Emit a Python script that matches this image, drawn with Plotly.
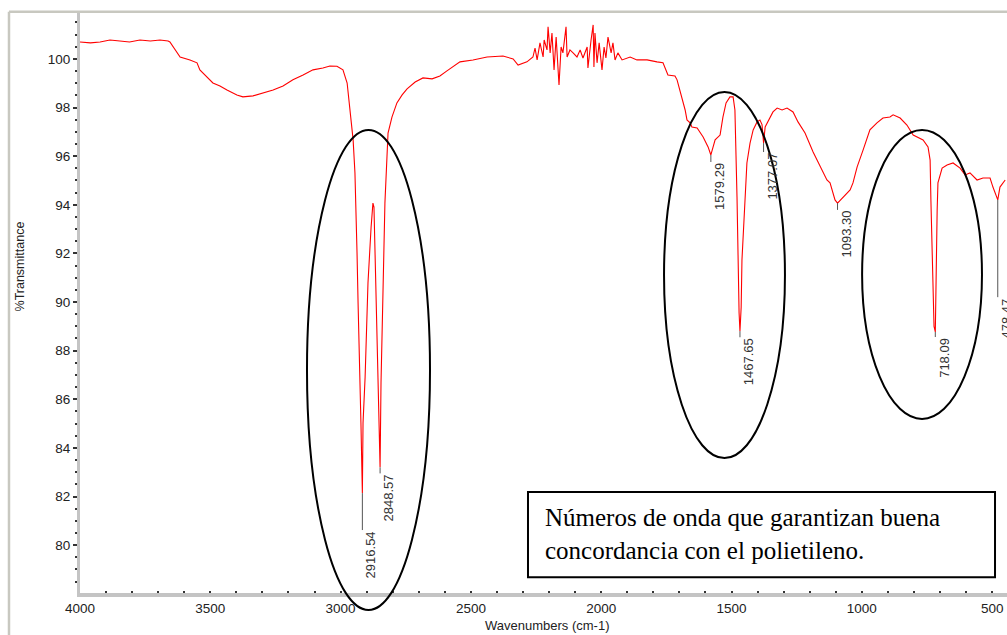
import plotly.graph_objects as go

# ---------------- data ----------------
wavenumber = [
    4000, 3960, 3923, 3885, 3847, 3810, 3770, 3730, 3693, 3662, 3655, 3635, 3616, 3578, 3551,
    3540, 3513, 3490, 3463, 3436, 3398, 3375, 3336, 3298, 3259, 3221, 3183, 3144, 3106, 3068,
    3041, 3014, 2998, 2991, 2975, 2964, 2952, 2945, 2941, 2937, 2933, 2929, 2922, 2916.54,
    2914, 2906, 2901, 2895, 2883, 2876, 2872, 2868, 2860, 2853, 2848.57, 2845, 2841, 2835,
    2830, 2822, 2818, 2803, 2784, 2764, 2745, 2714, 2684, 2649, 2619, 2592, 2569, 2542, 2492,
    2438, 2377, 2338, 2319, 2285, 2262, 2254, 2246, 2235, 2223, 2219, 2208, 2204, 2196, 2189,
    2181, 2173, 2162, 2154, 2147, 2135, 2131, 2120, 2108, 2093, 2081, 2070, 2054, 2051, 2039,
    2031, 2028, 2024, 2016, 2008, 1997, 1989, 1982, 1974, 1962, 1955, 1947, 1936, 1920, 1889,
    1863, 1824, 1786, 1763, 1744, 1724, 1717, 1709, 1698, 1690, 1678, 1671, 1659, 1652, 1632,
    1609, 1590, 1579.29, 1563, 1544, 1533, 1521, 1506, 1494, 1487, 1479, 1475, 1471, 1467.65,
    1463, 1460, 1452, 1441, 1429, 1417, 1402, 1391, 1383, 1377.07, 1371, 1360, 1341, 1325,
    1306, 1287, 1264, 1245, 1218, 1187, 1160, 1134, 1122, 1103, 1093.30, 1072, 1045, 1034,
    1018, 995, 969, 942, 919, 892, 880, 853, 827, 803, 765, 746, 738, 735, 731, 727, 723,
    718.09, 715, 711, 708, 692, 673, 650, 623, 604, 585, 558, 535, 508, 497, 478.47, 470, 450,
]
transmittance = [
    100.70, 100.66, 100.70, 100.78, 100.74, 100.70, 100.78, 100.74, 100.78, 100.74, 100.70,
    100.37, 100.08, 99.96, 99.84, 99.55, 99.26, 99.01, 98.89, 98.72, 98.52, 98.44, 98.48,
    98.60, 98.72, 98.89, 99.14, 99.34, 99.55, 99.63, 99.71, 99.70, 99.59, 99.55, 99.01, 97.90,
    96.67, 95.31, 93.91, 92.02, 89.96, 87.61, 85.02, 82.14,
    85.02, 86.91, 88.72, 90.78, 93.09, 94.07, 93.91, 92.02, 88.56, 85.02, 83.2, 86.67, 88.85,
    91.73, 94.07, 96.0, 96.95, 97.61, 98.19, 98.52, 98.77, 99.05, 99.22, 99.18, 99.30, 99.51,
    99.67, 99.88, 99.96, 100.08, 100.12, 100.0, 99.75, 99.88, 100.08, 100.45, 99.96, 100.66,
    100.08, 100.78, 100.37, 101.32, 100.25, 101.07, 99.55, 100.90, 98.93, 100.49, 100.25,
    101.32, 100.08, 100.37, 100.25, 100.08, 100.37, 100.04, 100.49, 99.63, 100.78, 101.40,
    99.67, 101.07, 99.84, 100.66, 99.55, 100.49, 100.04, 100.90, 100.25, 100.66, 99.96,
    100.25, 99.96, 100.08, 99.96, 99.96, 99.88, 99.84, 99.34, 99.30, 99.30, 99.14, 98.72,
    98.31, 97.90, 97.49, 97.37, 97.20, 97.16, 96.79, 96.38, 96.05, 96.67, 96.87, 97.61, 98.19,
    98.44, 98.44, 97.90, 94.32, 90.91, 89.55, 88.8, 89.79, 91.73, 93.66, 95.72, 96.54, 97.08,
    97.41, 97.49, 97.3, 96.54, 97.20, 97.41, 97.82, 97.98, 97.90, 97.98, 97.82, 97.41, 96.95,
    96.17, 95.56, 95.02, 94.90, 94.20, 94.07, 94.32, 94.61, 94.90, 95.56, 96.26, 97.08, 97.37,
    97.57, 97.61, 97.70, 97.57, 97.28, 96.87, 96.67, 96.38, 95.84, 94.20, 92.14, 90.08, 89.0,
    88.77, 91.44, 93.79, 94.90, 95.51, 95.64, 95.72, 95.51, 95.23, 95.31, 95.02, 95.10, 95.10,
    94.73, 94.20, 94.73, 95.02,
]

peak_labels = ["2916.54", "2848.57", "1579.29", "1467.65", "1377.07", "1093.30", "718.09", "478.47"]
peak_wn = [2916.54, 2848.57, 1579.29, 1467.65, 1377.07, 1093.30, 718.09, 478.47]
peak_T = [82.14, 83.2, 96.05, 88.8, 96.54, 94.07, 88.77, 94.20]
label_T = [80.62, 82.95, 95.76, 88.55, 96.17, 93.79, 88.56, 90.2]

x_ticks = [4000, 3500, 3000, 2500, 2000, 1500, 1000, 500]
y_ticks = [80, 82, 84, 86, 88, 90, 92, 94, 96, 98, 100]

# ellipse bounds (wavenumber, %T) around the polyethylene bands
ellipses = [
    (3129, 2657, 77.33, 97.08),
    (1759, 1295, 83.58, 98.64),
    (999, 539, 85.19, 97.08),
]

note_text = "Números de onda que garantizan buena<br>concordancia con el polietileno."

# ---------------- figure ----------------
XR = [4000, 443]
YR = [78.03, 101.89]


def xp(wn):
    return (XR[0] - wn) / (XR[0] - XR[1])


def yp(t):
    return (t - YR[0]) / (YR[1] - YR[0])


fig = go.Figure()
fig.add_trace(go.Scatter(
    x=wavenumber, y=transmittance, mode="lines",
    line=dict(color="#ff0000", width=1.1), hoverinfo="skip", showlegend=False,
))

shapes = []
annotations = []

# peak leader lines + rotated labels
for lab, wn, t0, t1 in zip(peak_labels, peak_wn, peak_T, label_T):
    shapes.append(dict(type="line", xref="x", yref="y", x0=wn, x1=wn, y0=t0, y1=t1,
                       line=dict(color="#555555", width=1)))
    annotations.append(dict(x=wn, y=t1, xref="x", yref="y", text=lab, showarrow=False,
                            textangle=-90, xanchor="left", yanchor="top", borderpad=0,
                            font=dict(family="Liberation Sans", size=13, color="#333333")))

# ellipses (paper coordinates so they are not clipped by the plot area)
for w0, w1, t0, t1 in ellipses:
    shapes.append(dict(type="circle", xref="paper", yref="paper",
                       x0=xp(w0), x1=xp(w1), y0=yp(t0), y1=yp(t1),
                       line=dict(color="black", width=2)))

# note box
shapes.append(dict(type="rect", xref="paper", yref="paper",
                   x0=xp(2281), x1=xp(489), y0=yp(78.68), y1=yp(82.18),
                   fillcolor="white", line=dict(color="black", width=2)))
annotations.append(dict(x=xp(2222), y=yp(80.45), xref="paper", yref="paper", text=note_text,
                        showarrow=False, xanchor="left", yanchor="middle", align="left",
                        font=dict(family="Liberation Serif", size=25, color="black")))

# outer frame (window border)
frame_col = "#c8c8c0"
shapes.append(dict(type="line", xref="paper", yref="paper", x0=-0.0766, x1=-0.0766,
                   y0=-0.08, y1=1.002, line=dict(color=frame_col, width=2.5)))
shapes.append(dict(type="line", xref="paper", yref="paper", x0=-0.0766, x1=1.0,
                   y0=1.002, y1=1.002, line=dict(color=frame_col, width=2.5)))

# axis titles
annotations.append(dict(x=-0.0647, y=0.563, xref="paper", yref="paper", text="%Transmittance",
                        showarrow=False, textangle=-90, xanchor="center", yanchor="middle",
                        font=dict(family="Liberation Sans", size=12.5, color="#222222")))
annotations.append(dict(x=0.504, y=-0.0552, xref="paper", yref="paper", text="Wavenumbers (cm-1)",
                        showarrow=False, xanchor="center", yanchor="middle",
                        font=dict(family="Liberation Sans", size=13, color="#222222")))

fig.update_layout(
    width=1007, height=635,
    margin=dict(l=80, r=0, t=13, b=42),
    paper_bgcolor="white", plot_bgcolor="white",
    shapes=shapes, annotations=annotations,
    font=dict(family="Liberation Sans", size=13, color="#222222"),
)
fig.update_xaxes(
    range=XR, tickvals=x_ticks, ticktext=[str(v) for v in x_ticks],
    showgrid=False, zeroline=False, showline=True, linecolor="#c4c4c4", linewidth=4,
    ticks="inside", ticklen=2, tickwidth=2, tickcolor="#333333",
    minor=dict(dtick=100, ticks="inside", ticklen=2, tickwidth=2, tickcolor="#333333"),
    tickfont=dict(family="Liberation Sans", size=13.5, color="#222222"),
)
fig.update_yaxes(
    range=YR, tickvals=y_ticks, ticktext=[str(v) for v in y_ticks],
    showgrid=False, zeroline=False, showline=True, linecolor="#c4c4c4", linewidth=3,
    ticks="outside", ticklen=4, tickwidth=1.5, tickcolor="#333333",
    minor=dict(dtick=0.5, ticks="outside", ticklen=2, tickwidth=1.5, tickcolor="#333333"),
    tickfont=dict(family="Liberation Sans", size=13.5, color="#222222"),
)

fig.write_html("out.html")
